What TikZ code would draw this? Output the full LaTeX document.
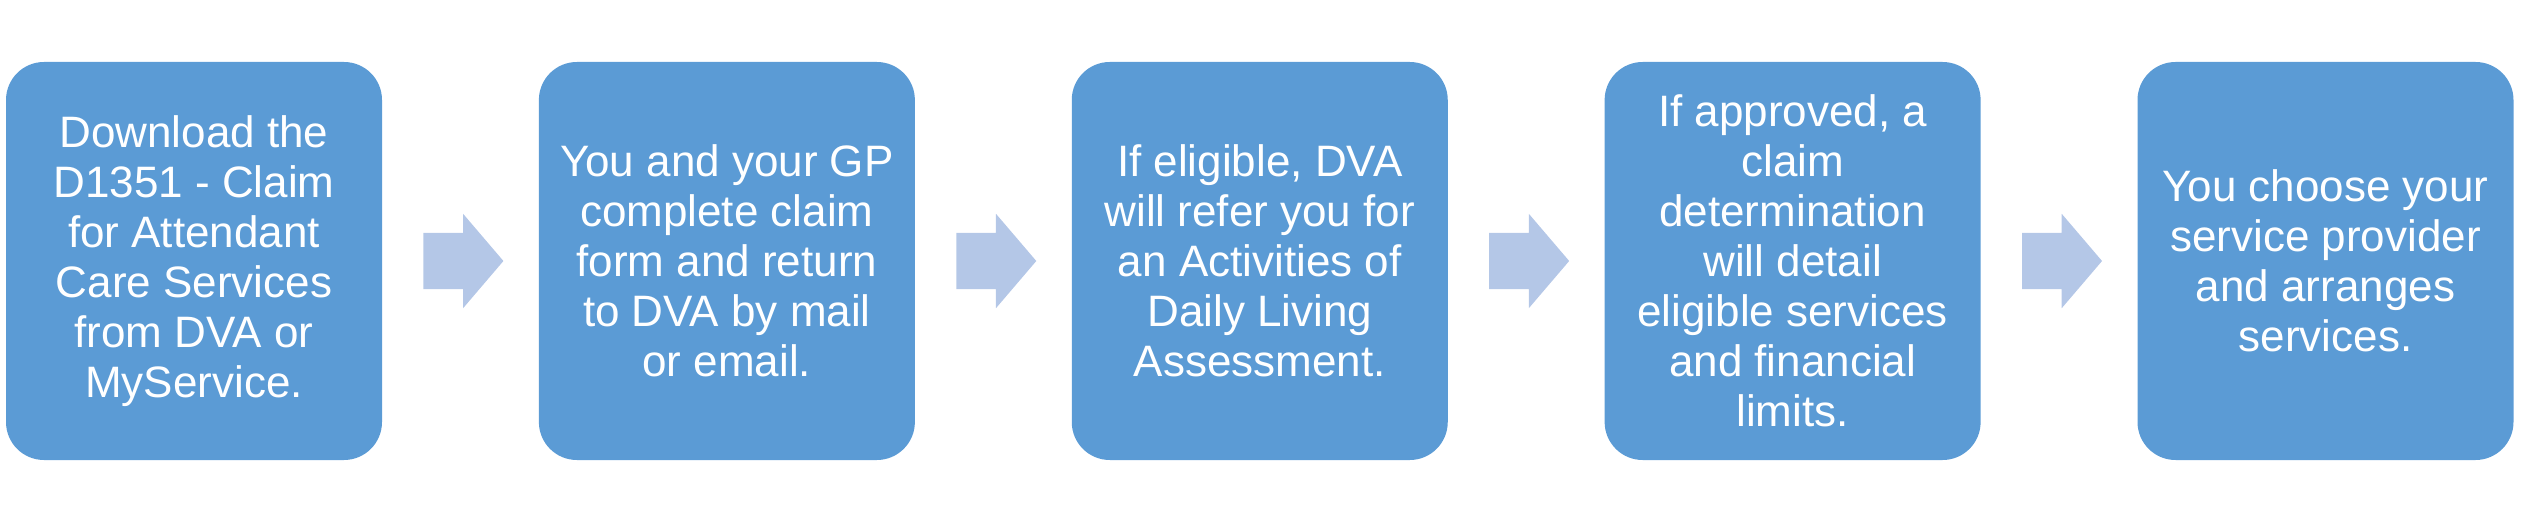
\documentclass[tikz,border=0pt]{standalone}
\usepackage{fontspec}
\setmainfont{Liberation Sans}
\usetikzlibrary{positioning,shapes.arrows}
\definecolor{stepblue}{HTML}{5B9BD5}
\definecolor{arrowblue}{HTML}{B4C7E7}
\begin{document}
\begin{tikzpicture}[
    stepbox/.style = {fill = stepblue, rounded corners = 38pt,
      minimum width = 376pt, minimum height = 398pt, inner sep = 0pt,
      align = center, text = white, font = \fontsize{44}{50}\selectfont},
    flowarrow/.style = {single arrow, fill = arrowblue, inner sep = 0pt,
      text height = 28pt, text depth = 28pt, minimum height = 80pt,
      single arrow head extend = 19pt, single arrow tip angle = 99}
  ]
  \useasboundingbox (0, 0) rectangle (2527pt, 525pt);

  \node[stepbox] (download) at (194pt, 264pt)
    {Download the\\D1351 - Claim\\for Attendant\\Care Services\\from DVA or\\MyService.};
  \node[flowarrow, right = 41pt of download] (arrowa) {};

  \node[stepbox, right = 35pt of arrowa] (complete)
    {You and your GP\\complete claim\\form and return\\to DVA by mail\\or email.};
  \node[flowarrow, right = 41pt of complete] (arrowb) {};

  \node[stepbox, right = 35pt of arrowb] (refer)
    {If eligible, DVA\\will refer you for\\an Activities of\\Daily Living\\Assessment.};
  \node[flowarrow, right = 41pt of refer] (arrowc) {};

  \node[stepbox, right = 35pt of arrowc] (approve)
    {If approved, a\\claim\\determination\\will detail\\eligible services\\and financial\\limits.};
  \node[flowarrow, right = 41pt of approve] (arrowd) {};

  \node[stepbox, right = 35pt of arrowd] (choose)
    {You choose your\\service provider\\and arranges\\services.};
\end{tikzpicture}
\end{document}
